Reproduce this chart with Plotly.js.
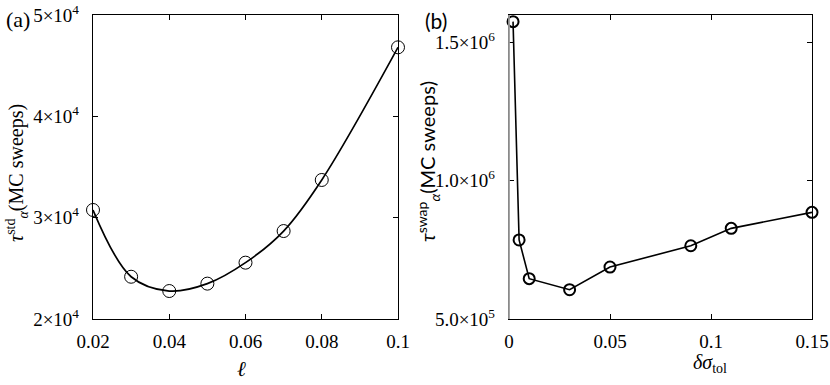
<!DOCTYPE html>
<html>
<head>
<meta charset="utf-8">
<script src="https://cdn.plot.ly/plotly-3.0.1.min.js"></script>
<style>html,body{margin:0;padding:0;background:#fff;}#chart{width:830px;height:385px;}</style>
</head>
<body>
<div id="chart"></div>
<script>
// Panel (a)
var ellValues = [0.02, 0.03, 0.04, 0.05, 0.06, 0.07, 0.08, 0.10];
var tauStd = [30760, 24170, 22760, 23490, 25560, 28680, 33720, 46810];
var aXTickVals = [0.02, 0.04, 0.06, 0.08, 0.1];
var aXTickText = ['0.02', '0.04', '0.06', '0.08', '0.1'];
var aYTickVals = [20000, 30000, 40000, 50000];
var aYTickText = ['2×10<sup>4</sup>', '3×10<sup>4</sup>', '4×10<sup>4</sup>', '5×10<sup>4</sup>'];

// Panel (b)
var dSigmaTol = [0.002, 0.005, 0.01, 0.03, 0.05, 0.09, 0.11, 0.15];
var tauSwap = [1576000, 786000, 646000, 606000, 688000, 765000, 828000, 886000];
var bXTickVals = [0, 0.05, 0.1, 0.15];
var bXTickText = ['0', '0.05', '0.1', '0.15'];
var bYTickVals = [500000, 1000000, 1500000];
var bYTickText = ['5.0×10<sup>5</sup>', '1.0×10<sup>6</sup>', '1.5×10<sup>6</sup>'];

var W = 830, H = 385;
function px(x) { return x / W; }
function py(y) { return 1 - y / H; }

var serif = 'Liberation Serif';
var sans = 'Lato';

var traces = [
  {
    x: ellValues, y: tauStd, xaxis: 'x', yaxis: 'y',
    mode: 'lines', line: {color: '#000', width: 1.7, shape: 'spline', smoothing: 1},
    hoverinfo: 'skip', showlegend: false, cliponaxis: false
  },
  {
    x: ellValues, y: tauStd, xaxis: 'x', yaxis: 'y',
    mode: 'markers', marker: {symbol: 'circle-open', size: 13, color: '#000', line: {width: 1, color: '#000'}},
    showlegend: false, cliponaxis: false
  },
  {
    x: dSigmaTol, y: tauSwap, xaxis: 'x2', yaxis: 'y2',
    mode: 'lines+markers', line: {color: '#000', width: 1.6},
    marker: {symbol: 'circle-open', size: 11, color: '#000', line: {width: 2, color: '#000'}},
    showlegend: false, cliponaxis: false
  }
];

function ax(extra) {
  var base = {
    showline: true, linecolor: '#000', linewidth: 1.2, mirror: 'ticks',
    ticks: 'inside', ticklen: 5, tickwidth: 1, tickcolor: '#000',
    showgrid: false, zeroline: false, fixedrange: true,
    tickfont: {family: serif, size: 19, color: '#000'},
    tickmode: 'array'
  };
  return Object.assign(base, extra);
}

var layout = {
  width: W, height: H,
  font: {family: serif, size: 18, color: '#000'},
  margin: {l: 0, r: 0, t: 0, b: 0},
  paper_bgcolor: '#fff', plot_bgcolor: '#fff',
  xaxis: ax({domain: [px(93), px(398)], range: [0.02, 0.1], tickvals: aXTickVals, ticktext: aXTickText, anchor: 'y', ticklabelstandoff: 5}),
  yaxis: ax({domain: [py(319), py(15)], range: [20000, 50000], tickvals: aYTickVals, ticktext: aYTickText, anchor: 'x', ticklabelstandoff: 9}),
  xaxis2: ax({domain: [px(509), px(812)], range: [0, 0.15], tickvals: bXTickVals, ticktext: bXTickText, anchor: 'y2', ticklabelstandoff: 5}),
  yaxis2: ax({domain: [py(319), py(15)], range: [500000, 1600000], tickvals: bYTickVals, ticktext: bYTickText, anchor: 'x2', ticklabelstandoff: 9}),
  shapes: [
    {type: 'line', xref: 'x2 domain', yref: 'y2 domain', x0: 0, x1: 0, y0: 0, y1: 1, layer: 'above',
     line: {color: '#999999', width: 1.8}}
  ],
  annotations: [
    {text: '(a)', x: px(4), y: py(19), xref: 'paper', yref: 'paper', xanchor: 'left', yanchor: 'middle', showarrow: false,
     font: {family: serif, size: 22, color: '#000'}},
    {text: '(b)', x: px(423), y: py(20), xref: 'paper', yref: 'paper', xanchor: 'left', yanchor: 'middle', showarrow: false,
     font: {family: sans, size: 21, color: '#000'}},
    {text: '<i>τ</i><sup>std</sup><sub><i>α</i></sub>(MC sweeps)', x: px(17), y: py(173), xref: 'paper', yref: 'paper',
     xanchor: 'center', yanchor: 'middle', textangle: -90, showarrow: false, font: {family: serif, size: 20, color: '#000'}},
    {text: '<i>τ</i><sup>swap</sup><sub><i>α</i></sub>(MC sweeps)', x: px(428), y: py(162), xref: 'paper', yref: 'paper',
     xanchor: 'center', yanchor: 'middle', textangle: -90, showarrow: false, font: {family: sans, size: 20, color: '#000'}},
    {text: '<i>ℓ</i>', x: px(241), y: py(369), xref: 'paper', yref: 'paper', xanchor: 'center', yanchor: 'middle', showarrow: false,
     font: {family: serif, size: 21, color: '#000'}},
    {text: '<i>δσ</i><sub>tol</sub>', x: px(710), y: py(363), xref: 'paper', yref: 'paper', xanchor: 'center', yanchor: 'middle', showarrow: false,
     font: {family: serif, size: 20, color: '#000'}}
  ]
};

Plotly.newPlot('chart', traces, layout, {displayModeBar: false, staticPlot: true});
</script>
</body>
</html>
